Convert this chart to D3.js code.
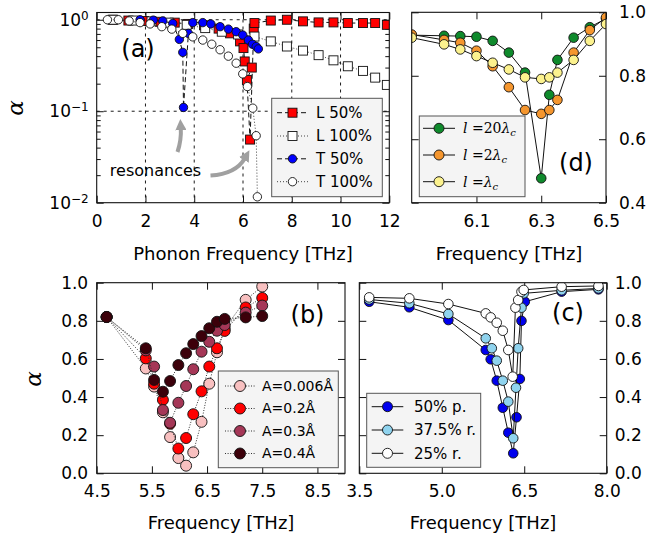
<!DOCTYPE html>
<html>
<head>
<meta charset="utf-8">
<script src="https://cdn.jsdelivr.net/npm/d3@7"></script>
<style>
body { margin: 0; background: #fff; }
svg { display: block; font-family: "DejaVu Sans", sans-serif; }
</style>
</head>
<body>
<div id="container"></div>
<script>
// ---- panel (a): absorption vs phonon frequency (log scale)
const aL50Freq = [0.65, 1.3, 1.95, 2.6, 3.2, 3.75, 4.4, 5.0, 5.47, 5.88, 6.02, 6.07, 6.36, 6.16, 6.29, 6.44, 6.47, 7.14, 7.8, 8.46, 9.1, 9.71, 10.3, 10.92, 11.42, 11.9];
const aL50 = [1.0, 0.98, 0.97, 0.95, 0.93, 0.9, 0.87, 0.8, 0.71, 0.58, 0.49, 0.35, 0.30, 0.22, 0.049, 0.8, 0.92, 0.98, 1.0, 0.96, 0.935, 0.935, 0.92, 0.92, 0.92, 0.88];
const aL100Freq = [0.68, 1.5, 2.25, 2.95, 3.69, 4.45, 5.13, 5.8, 6.47, 7.14, 7.8, 8.46, 9.1, 9.71, 10.3, 10.92, 11.42, 11.9];
const aL100 = [1.0, 0.98, 0.96, 0.93, 0.88, 0.81, 0.74, 0.69, 0.655, 0.58, 0.51, 0.46, 0.41, 0.36, 0.31, 0.276, 0.233, 0.194];
const aT50Freq = [1.78, 2.32, 2.71, 3.12, 3.39, 3.53, 3.56, 3.76, 3.94, 4.35, 4.68, 5.06, 5.4, 5.72, 5.99, 6.22, 6.39, 6.54, 6.63];
const aT50 = [1.0, 0.99, 0.97, 0.91, 0.61, 0.44, 0.11, 0.71, 0.93, 0.93, 0.9, 0.84, 0.79, 0.74, 0.68, 0.6, 0.54, 0.51, 0.48];
const aT100Freq = [0.44, 0.89, 1.33, 1.78, 2.19, 2.67, 3.08, 3.53, 3.94, 4.35, 4.72, 5.06, 5.4, 5.72, 5.99, 6.18, 6.4, 6.54, 6.59];
const aT100 = [1.0, 1.0, 0.97, 0.93, 0.9, 0.84, 0.79, 0.71, 0.65, 0.6, 0.54, 0.47, 0.4, 0.335, 0.256, 0.186, 0.108, 0.054, 0.0116];
const aLabels = ["L 50%", "L 100%", "T 50%", "T 100%"];

// ---- panel (b): amplitude dependence
const bFreq = [4.68, 5.39, 5.54, 5.7, 5.83, 5.98, 6.12, 6.25, 6.4, 6.54, 6.68, 6.82, 7.2, 7.5];
const bA006 = [0.82, 0.55, 0.455, 0.32, 0.19, 0.08, 0.04, 0.11, 0.27, 0.47, 0.635, 0.76, 0.91, 0.98];
const bA02 = [0.82, 0.603, 0.47, 0.385, 0.26, 0.13, 0.185, 0.31, 0.43, 0.56, 0.656, 0.747, 0.87, 0.92];
const bA03 = [0.82, 0.645, 0.56, 0.332, 0.265, 0.37, 0.458, 0.546, 0.638, 0.69, 0.748, 0.778, 0.843, 0.88];
const bA04 = [0.82, 0.656, 0.49, 0.428, 0.484, 0.568, 0.63, 0.678, 0.72, 0.761, 0.795, 0.81, 0.818, 0.825];
const bLabels = ["A=0.006Å", "A=0.2Å", "A=0.3Å", "A=0.4Å"];

// ---- panel (c): roughness
const c50Freq = [3.68, 4.41, 5.12, 5.8, 5.89, 6.0, 6.11, 6.21, 6.3, 6.36, 6.42, 6.45, 6.51, 7.18, 7.85];
const c50 = [0.9, 0.871, 0.804, 0.647, 0.598, 0.486, 0.344, 0.213, 0.105, 0.294, 0.495, 0.8, 0.9, 0.953, 0.965];
const c375Freq = [3.68, 4.41, 5.12, 5.8, 5.91, 6.0, 6.11, 6.21, 6.3, 6.35, 6.39, 6.45, 6.49, 7.18, 7.85];
const c375 = [0.912, 0.892, 0.836, 0.708, 0.656, 0.591, 0.486, 0.376, 0.184, 0.449, 0.656, 0.869, 0.944, 0.96, 0.97];
const c25Freq = [3.68, 4.41, 5.12, 5.8, 5.89, 6.0, 6.11, 6.21, 6.29, 6.34, 6.39, 6.45, 6.49, 7.18, 7.85];
const c25 = [0.923, 0.918, 0.888, 0.839, 0.818, 0.79, 0.748, 0.647, 0.507, 0.869, 0.909, 0.953, 0.962, 0.979, 0.983];
const cLabels = ["50% p.", "37.5% r.", "25% r."];

// ---- panel (d): length dependence
const dFreq = [5.9, 6.0, 6.05, 6.1, 6.15, 6.2, 6.25, 6.3, 6.325, 6.35, 6.4, 6.45, 6.5];
const d20 = [0.928, 0.926, 0.925, 0.923, 0.91, 0.873, 0.81, 0.477, 0.74, 0.85, 0.92, 0.953, 0.98];
const d2 = [0.93, 0.913, 0.904, 0.879, 0.83, 0.764, 0.692, 0.68, 0.692, 0.724, 0.873, 0.944, 0.984];
const d1 = [0.92, 0.899, 0.883, 0.862, 0.841, 0.82, 0.795, 0.79, 0.795, 0.81, 0.85, 0.91, 0.963];
const dMult = ["20", "2", ""];

// tick labels
const aXTicks = [0, 2, 4, 6, 8, 10, 12];
const aYTicks = [0.01, 0.1, 1];
const bXTicks = [4.5, 5.5, 6.5, 7.5, 8.5];
const cXTicks = [3.5, 5.0, 6.5, 8.0];
const dXTicks = [6.1, 6.3, 6.5];
const linYTicks = [0, 0.2, 0.4, 0.6, 0.8, 1.0];
const dYTicks = [0.4, 0.6, 0.8, 1.0];

const W = 648, H = 541;
const svg = d3.select("#container").append("svg").attr("width", W).attr("height", H);
const defs = svg.append("defs");
const f1 = d3.format(".1f");

function zip(xs, ys) { return xs.map((x, i) => [x, ys[i]]); }

// axes with inward ticks on all four sides
function drawAxes(id, xs, ys, o) {
	const [l, r] = xs.range(), [b, t] = ys.range();
	defs.append("clipPath").attr("id", id).append("rect").attr("x", l).attr("y", t).attr("width", r - l).attr("height", b - t);
	const g = svg.append("g");
	if (o.gridX) {
		g.selectAll(".gx").data(o.gridX).enter().append("line")
			.attr("x1", d => xs(d)).attr("x2", d => xs(d)).attr("y1", t).attr("y2", b)
			.attr("stroke", "#000").attr("stroke-width", 0.9).attr("stroke-dasharray", "3,4");
		g.selectAll(".gy").data(o.gridY).enter().append("line")
			.attr("y1", d => ys(d)).attr("y2", d => ys(d)).attr("x1", l).attr("x2", r)
			.attr("stroke", "#000").attr("stroke-width", 0.9).attr("stroke-dasharray", "3,4");
	}
	const xb = d3.axisBottom(xs).tickValues(o.xTicks).tickSizeInner(-7).tickSizeOuter(0).tickPadding(12).tickFormat(o.xFmt);
	g.append("g").attr("transform", `translate(0,${b})`).call(xb);
	g.append("g").attr("transform", `translate(0,${t})`).call(d3.axisTop(xs).tickValues(o.xTicks).tickSizeInner(-7).tickSizeOuter(0).tickFormat(""));
	const yl = d3.axisLeft(ys).tickValues(o.yTicks).tickSizeInner(-7).tickSizeOuter(0).tickPadding(o.yPad).tickFormat(o.yRight ? "" : o.yFmt);
	const gl = g.append("g").attr("transform", `translate(${l},0)`).call(yl);
	const yr = d3.axisRight(ys).tickValues(o.yTicks).tickSizeInner(-7).tickSizeOuter(0).tickPadding(o.yPad).tickFormat(o.yRight ? o.yFmt : "");
	g.append("g").attr("transform", `translate(${r},0)`).call(yr);
	if (o.yMinor) {
		g.append("g").attr("transform", `translate(${l},0)`).call(d3.axisLeft(ys).tickValues(o.yMinor).tickSizeInner(-4).tickSizeOuter(0).tickFormat(""));
		g.append("g").attr("transform", `translate(${r},0)`).call(d3.axisRight(ys).tickValues(o.yMinor).tickSizeInner(-4).tickSizeOuter(0).tickFormat(""));
	}
	g.selectAll(".domain").remove();
	g.selectAll(".tick line").attr("stroke", "#111");
	g.selectAll(".tick text").attr("font-size", 17).attr("fill", "#000").attr("font-family", "DejaVu Sans");
	return { g: g, gl: gl, l: l, r: r, t: t, b: b };
}

function frame(ax) {
	svg.append("rect").attr("x", ax.l).attr("y", ax.t).attr("width", ax.r - ax.l).attr("height", ax.b - ax.t)
		.attr("fill", "none").attr("stroke", "#111").attr("stroke-width", 1.1);
}

function marker(sel, shape, size, fill) {
	if (shape === "sq") {
		return sel.append("rect").attr("x", -size / 2).attr("y", -size / 2).attr("width", size).attr("height", size)
			.attr("fill", fill).attr("stroke", "#111").attr("stroke-width", 0.9);
	}
	return sel.append("circle").attr("r", size).attr("fill", fill).attr("stroke", "#111").attr("stroke-width", 0.9);
}

function series(id, xs, ys, pts, s) {
	const g = svg.append("g").attr("clip-path", `url(#${id})`);
	g.append("path").datum(pts)
		.attr("d", d3.line().x(d => xs(d[0])).y(d => ys(d[1])))
		.attr("fill", "none").attr("stroke", s.lineColor || "#111").attr("stroke-width", s.lineWidth || 1)
		.attr("stroke-dasharray", s.dash || null);
	g.selectAll(".m").data(pts).enter().append("g")
		.attr("transform", d => `translate(${xs(d[0])},${ys(d[1])})`)
		.each(function () { marker(d3.select(this), s.shape, s.size, s.fill); });
}

function legend(box, rows, o) {
	const g = svg.append("g");
	g.append("rect").attr("x", box[0]).attr("y", box[1]).attr("width", box[2] - box[0]).attr("height", box[3] - box[1])
		.attr("fill", "#f4f4f4").attr("stroke", "#555").attr("stroke-width", 1);
	rows.forEach((row, i) => {
		const y = o.rowY[i];
		g.append("line").attr("x1", o.x0).attr("x2", o.x1).attr("y1", y).attr("y2", y)
			.attr("stroke", row.lineColor || "#111").attr("stroke-width", row.lineWidth || 1).attr("stroke-dasharray", row.dash || null);
		marker(g.append("g").attr("transform", `translate(${(o.x0 + o.x1) / 2},${y})`), row.shape, row.size, row.fill);
		const t = g.append("text").attr("x", o.tx).attr("y", y).attr("dy", "0.35em").attr("font-size", o.fs);
		if (row.math) row.math(t); else t.text(row.label);
	});
}

function panelTag(x, y, s) {
	svg.append("text").attr("x", x).attr("y", y).attr("text-anchor", "middle").attr("font-size", 24).text(s);
}

function xLabel(x, y, s) {
	svg.append("text").attr("x", x).attr("y", y).attr("text-anchor", "middle").attr("font-size", 18).text(s);
}

function alphaLabel(x, y) {
	svg.append("text").attr("transform", `translate(${x},${y}) rotate(-90)`).attr("text-anchor", "middle").attr("dy", "0.3em")
		.attr("font-family", "DejaVu Serif").attr("font-style", "italic").attr("font-size", 23).text("α");
}

// ================= panel (a)
const xa = d3.scaleLinear().domain([0, 12]).range([96.7, 389.3]);
const ya = d3.scaleLog().domain([0.01, 1.2]).range([202.7, 12.5]);
const minorA = [];
[0.01, 0.1].forEach(dec => { for (let k = 2; k <= 9; k++) minorA.push(dec * k); });
const axA = drawAxes("clipA", xa, ya, {
	xTicks: aXTicks, xFmt: d3.format("d"), yTicks: aYTicks, yFmt: () => "10", yPad: 8, yMinor: minorA,
	gridX: [2, 4, 6, 8, 10], gridY: [0.1, 1]
});
axA.gl.selectAll(".tick text").each(function (d) {
	d3.select(this).append("tspan").attr("dy", "-0.5em").attr("font-size", 12)
		.text(String(Math.round(Math.log10(d))).replace("-", "−"));
});
const aStyles = [
	{ shape: "sq", size: 9, fill: "#ff0000", dash: "5,3" },
	{ shape: "sq", size: 9, fill: "#ffffff", dash: "1,2", lineColor: "#444" },
	{ shape: "c", size: 4.2, fill: "#0000ff", dash: "5,3" },
	{ shape: "c", size: 4.2, fill: "#ffffff", dash: "1,2", lineColor: "#444" }
];
series("clipA", xa, ya, zip(aL50Freq, aL50), aStyles[0]);
series("clipA", xa, ya, zip(aL100Freq, aL100), aStyles[1]);
series("clipA", xa, ya, zip(aT50Freq, aT50), aStyles[2]);
series("clipA", xa, ya, zip(aT100Freq, aT100), aStyles[3]);
frame(axA);
legend([271.7, 98.3, 382.3, 196.7], aStyles.map((s, i) => Object.assign({ label: aLabels[i] }, s)),
	{ rowY: [112.7, 136, 158.8, 181.7], x0: 277, x1: 308, tx: 316, fs: 15 });
panelTag(138, 57, "(a)");
svg.append("text").attr("x", 155.5).attr("y", 176).attr("text-anchor", "middle").attr("font-size", 16).text("resonances");
defs.append("marker").attr("id", "ah").attr("viewBox", "0 0 10 10").attr("refX", 2).attr("refY", 5)
	.attr("markerWidth", 2.8).attr("markerHeight", 2.8).attr("orient", "auto")
	.append("path").attr("d", "M0,0L10,5L0,10z").attr("fill", "#a0a0a0");
svg.append("path").attr("d", "M177.5,152 Q181.5,140 180.8,128").attr("fill", "none").attr("stroke", "#a0a0a0")
	.attr("stroke-width", 4).attr("marker-end", "url(#ah)");
svg.append("path").attr("d", "M210.5,175.5 Q236,174 245,158").attr("fill", "none").attr("stroke", "#a0a0a0")
	.attr("stroke-width", 4).attr("marker-end", "url(#ah)");
xLabel(243, 260, "Phonon Frequency [THz]");
alphaLabel(16, 108);

// ================= panel (d)
const xd = d3.scaleLinear().domain([5.9, 6.5]).range([411.7, 606]);
const yd = d3.scaleLinear().domain([0.4, 1.0]).range([202.7, 12.3]);
const axD = drawAxes("clipD", xd, yd, { xTicks: dXTicks, xFmt: f1, yTicks: dYTicks, yFmt: f1, yPad: 13, yRight: true });
const dColors = ["#0f8a2c", "#f5962e", "#fcf28e"];
[d20, d2, d1].forEach((vals, i) => {
	series("clipD", xd, yd, zip(dFreq, vals), { shape: "c", size: 4.8, fill: dColors[i] });
});
frame(axD);
legend([419.3, 116, 525, 196.7], dMult.map((m, i) => ({
	shape: "c", size: 5, fill: dColors[i],
	math: t => {
		t.attr("font-family", "DejaVu Serif");
		t.append("tspan").attr("font-style", "italic").text("l");
		t.append("tspan").text(" =" + m);
		t.append("tspan").attr("font-style", "italic").text("λ");
		t.append("tspan").attr("font-style", "italic").attr("font-size", 10).attr("dy", "0.3em").text("c");
	}
})), { rowY: [128.3, 155, 181.7], x0: 423, x1: 455, tx: 463, fs: 14 });
panelTag(576, 171, "(d)");
xLabel(509, 260, "Frequency [THz]");

// ================= panel (b)
const xb = d3.scaleLinear().domain([4.5, 9.0]).range([96.7, 345]);
const yb = d3.scaleLinear().domain([0, 1]).range([473.3, 282.7]);
const axB = drawAxes("clipB", xb, yb, { xTicks: bXTicks, xFmt: f1, yTicks: linYTicks, yFmt: f1, yPad: 8.5 });
const bColors = ["#f8c0c0", "#ff0000", "#a53757", "#3c000a"];
[bA006, bA02, bA03, bA04].forEach((vals, i) => {
	series("clipB", xb, yb, zip(bFreq, vals), { shape: "c", size: 5.5, fill: bColors[i], dash: "1,1.6", lineColor: "#333" });
});
frame(axB);
legend([218.3, 371, 338.3, 467.7], bLabels.map((s, i) => ({ label: s, shape: "c", size: 5.5, fill: bColors[i], dash: "1,1.6", lineColor: "#333" })),
	{ rowY: [386, 408.5, 431, 453.5], x0: 225, x1: 255, tx: 262, fs: 14 });
panelTag(307.5, 323, "(b)");
xLabel(221, 528.5, "Frequency [THz]");
alphaLabel(34, 379);

// ================= panel (c)
const xc = d3.scaleLinear().domain([3.5, 8.0]).range([359.3, 606.7]);
const yc = d3.scaleLinear().domain([0, 1]).range([473.3, 282.7]);
const axC = drawAxes("clipC", xc, yc, { xTicks: cXTicks, xFmt: f1, yTicks: linYTicks, yFmt: f1, yPad: 8, yRight: true });
const cColors = ["#0000ee", "#8fd3ee", "#ffffff"];
series("clipC", xc, yc, zip(c50Freq, c50), { shape: "c", size: 4.8, fill: cColors[0] });
series("clipC", xc, yc, zip(c375Freq, c375), { shape: "c", size: 4.8, fill: cColors[1] });
series("clipC", xc, yc, zip(c25Freq, c25), { shape: "c", size: 4.8, fill: cColors[2] });
frame(axC);
legend([366.7, 393.3, 480.7, 467.3], cLabels.map((s, i) => ({ label: s, shape: "c", size: 5, fill: cColors[i] })),
	{ rowY: [406.7, 430, 453.3], x0: 371.7, x1: 403.3, tx: 414, fs: 15 });
panelTag(568, 321, "(c)");
xLabel(483, 528.5, "Frequency [THz]");
</script>
</body>
</html>
